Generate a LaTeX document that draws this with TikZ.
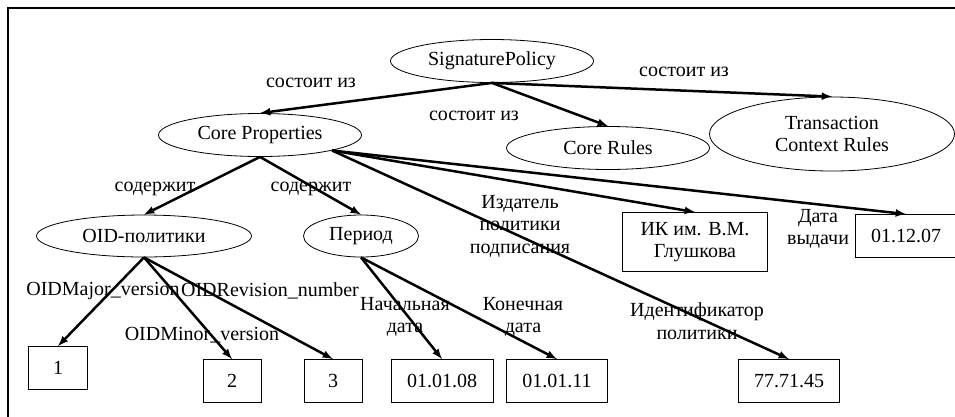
\documentclass[tikz,border=0pt]{standalone}
\usepackage{fontspec}
\setmainfont{Liberation Serif}
\usepackage{tikz}
\usetikzlibrary{positioning}
\usetikzlibrary{shapes}
\usetikzlibrary{arrows}
\tikzset{>=latex}
\tikzset{prop/.style={ellipse, draw, line width=0.8pt, inner sep=0pt, minimum width=203pt, minimum height=43pt, align=center}}
\tikzset{val/.style={rectangle, draw, line width=0.8pt, inner sep=0pt, minimum width=101pt, minimum height=43pt, align=center}}
\tikzset{rel/.style={align=center, inner sep=0pt}}
\tikzset{link/.style={->, line width=2.5pt}}

\begin{document}
\begin{tikzpicture}[x=1pt, y=-1pt,
        every node/.style={font=\fontsize{20}{22.5}\selectfont}
    ]
    \clip (0,0) rectangle (955,416);
    % The border surrounding the picture.
    \draw [line width=2pt] (8,8) rectangle (970,430);

    % ------- Start Policy ------- %
    \node [prop] (sp) at (492,61) {SignaturePolicy};
    \node [prop] (cp) at (260,135) {Core Properties};
    \node [prop] (cr) at (608,148) {Core Rules};
    \node [prop, minimum width=245pt, minimum height=74pt] (tcr) at (832,134) {Transaction\\Context Rules};

    \node [rel] (consist1) at (311,83) {состоит из};
    \node [rel] (consist2) at (474,116) {состоит из};
    \node [rel] (consist3) at (684,72) {состоит из};
    % ------- End Policy ------- %

    % ------- Start Core Properties ------- %
    \node [prop, minimum width=215pt, minimum height=42pt] (oid) at (144,236) {OID-политики};
    \node [prop, minimum width=115pt, minimum height=42pt] (period) at (361,236) {Период};
    \node [val, minimum width=145pt, minimum height=59pt] (issuer) at (695,242) {ИК им. В.М.\\Глушкова};
    \node [val, minimum width=102pt] (issued) at (906,236) {01.12.07};
    \node [val] (policyId) at (789,381) {77.71.45};

    \node [rel] (contains1) at (155,189) {содержит};
    \node [rel] (contains2) at (311,189) {содержит};
    \node [rel] (issuerLbl) at (520,226) {Издатель\\политики\\подписания};
    \node [rel] (issuedLbl) at (818,229) {Дата\\выдачи};
    \node [rel] (policyIdLbl) at (697,321) {Идентификатор\\политики};
    % ------- End Core Properties ------- %

    % ------- Start OID and Period ------- %
    \node [val, minimum width=59pt] (major) at (58,368) {1};
    \node [val, minimum width=58pt] (minor) at (232,381) {2};
    \node [val, minimum width=58pt] (revision) at (333,381) {3};
    \node [val, minimum width=102pt] (start) at (442,381) {01.01.08};
    \node [val] (end) at (557,381) {01.01.11};

    \node [rel] (majorLbl) at (103,291) {OIDMajor\_version};
    \node [rel] (revisionLbl) at (270,291) {OIDRevision\_number};
    \node [rel] (minorLbl) at (202,335) {OIDMinor\_version};
    \node [rel] (startLbl) at (405,317) {Начальная\\дата};
    \node [rel] (endLbl) at (523,317) {Конечная\\дата};
    % ------- End OID and Period ------- %

    % Lines from the policy to its parts.
    \draw [link] (sp.south) -- (cp.north);
    \draw [link] (sp.south) -- (cr.north);
    \draw [link] (sp.south) -- (tcr.north);

    % Lines from the core properties.
    \draw [link] (cp.south) -- (oid.north);
    \draw [link] (cp.south) -- (period.north);
    \draw [link] (cp.south east) -- (issuer.north);
    \draw [link] (cp.south east) -- (issued.north);
    \draw [link] (cp.south east) -- (policyId.north);

    % Lines to the values.
    \draw [link] (oid.south) -- (major.north);
    \draw [link] (oid.south) -- (minor.north);
    \draw [link] (oid.south) -- (revision.north);
    \draw [link] (period.south) -- (start.north);
    \draw [link] (period.south) -- (end.north);
\end{tikzpicture}
\end{document}
